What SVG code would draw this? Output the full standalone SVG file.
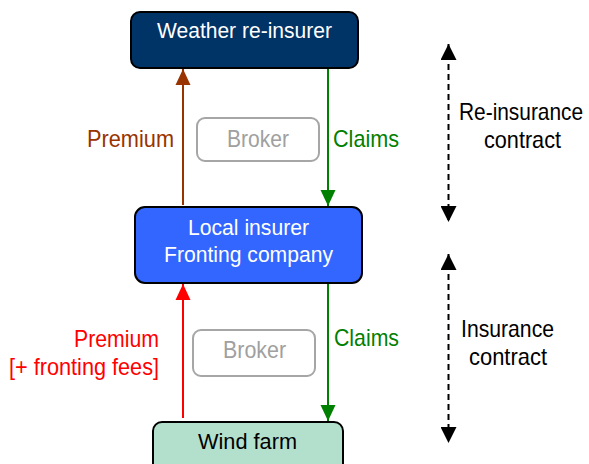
<svg xmlns="http://www.w3.org/2000/svg" width="589" height="464" viewBox="0 0 589 464">
<style>
text{font-family:"Liberation Sans Narrow","Liberation Sans",Arial,sans-serif;}
.box{stroke:#000;stroke-width:2;}
.bt{font-size:22px;fill:#fff;}
.lbl{font-size:24px;}
.broker rect{fill:#fff;stroke:#a6a6a6;stroke-width:2;}
.broker text{font-size:24px;fill:#a0a0a0;}
</style>
<defs>
<marker id="ahBrown" markerUnits="userSpaceOnUse" markerWidth="16" markerHeight="16" refX="16" refY="8" orient="auto"><path d="M0,0.5 L16,8 L0,15.5 z" fill="#993300"/></marker>
<marker id="ahGreen" markerUnits="userSpaceOnUse" markerWidth="16" markerHeight="16" refX="16" refY="8" orient="auto"><path d="M0,0.5 L16,8 L0,15.5 z" fill="#008000"/></marker>
<marker id="ahRed" markerUnits="userSpaceOnUse" markerWidth="16" markerHeight="16" refX="16" refY="8" orient="auto"><path d="M0,0.5 L16,8 L0,15.5 z" fill="#ff0000"/></marker>
<marker id="ahBlack" markerUnits="userSpaceOnUse" markerWidth="16" markerHeight="16" refX="16" refY="8" orient="auto-start-reverse"><path d="M0,0 L16,8 L0,16 z" fill="#000"/></marker>
</defs>
<rect width="589" height="464" fill="#fff"/>
<g id="connectors">
<line x1="183" y1="205" x2="183" y2="69" stroke="#993300" stroke-width="2" marker-end="url(#ahBrown)"/>
<line x1="328" y1="69" x2="328" y2="206" stroke="#008000" stroke-width="2" marker-end="url(#ahGreen)"/>
<line x1="183" y1="418" x2="183" y2="284" stroke="#ff0000" stroke-width="2" marker-end="url(#ahRed)"/>
<line x1="328" y1="284" x2="328" y2="421" stroke="#008000" stroke-width="2" marker-end="url(#ahGreen)"/>
<line x1="448.5" y1="44" x2="448.5" y2="222" stroke="#000" stroke-width="2" stroke-dasharray="6,4" marker-start="url(#ahBlack)" marker-end="url(#ahBlack)"/>
<line x1="448.5" y1="254" x2="448.5" y2="443" stroke="#000" stroke-width="2" stroke-dasharray="6,4" marker-start="url(#ahBlack)" marker-end="url(#ahBlack)"/>
</g>
<g id="reinsurer">
<rect class="box" x="131" y="12" width="227" height="56" rx="9" fill="#003366"/>
<text class="bt" x="157" y="37.5" textLength="175" lengthAdjust="spacingAndGlyphs">Weather re-insurer</text>
</g>
<g id="local-insurer">
<rect class="box" x="135" y="207" width="227" height="76" rx="10" fill="#3366ff"/>
<text class="bt" x="188" y="235" textLength="121" lengthAdjust="spacingAndGlyphs">Local insurer</text>
<text class="bt" x="164" y="262" textLength="169" lengthAdjust="spacingAndGlyphs">Fronting company</text>
</g>
<g id="wind-farm">
<rect class="box" x="153" y="422" width="190" height="60" rx="9" fill="#b3e0cd"/>
<text class="bt" x="198" y="449" textLength="99" lengthAdjust="spacingAndGlyphs" style="fill:#000">Wind farm</text>
</g>
<g id="broker1" class="broker">
<rect x="197" y="118" width="122" height="43" rx="8"/>
<text x="227" y="147" textLength="62" lengthAdjust="spacingAndGlyphs">Broker</text>
</g>
<g id="broker2" class="broker">
<rect x="193" y="330" width="122" height="46" rx="8"/>
<text x="223" y="358" textLength="63" lengthAdjust="spacingAndGlyphs">Broker</text>
</g>
<g id="labels">
<text class="lbl" x="87" y="147" textLength="87" lengthAdjust="spacingAndGlyphs" fill="#993300">Premium</text>
<text class="lbl" x="333" y="147" textLength="66" lengthAdjust="spacingAndGlyphs" fill="#008000">Claims</text>
<text class="lbl" x="74" y="347" textLength="85" lengthAdjust="spacingAndGlyphs" fill="#ff0000">Premium</text>
<text class="lbl" x="9" y="375" textLength="150" lengthAdjust="spacingAndGlyphs" fill="#ff0000">[+ fronting fees]</text>
<text class="lbl" x="334" y="346" textLength="65" lengthAdjust="spacingAndGlyphs" fill="#008000">Claims</text>
<text class="lbl" transform="translate(459 120) scale(0.87 1)" x="0" y="0" fill="#000">Re-insurance</text>
<text class="lbl" x="484" y="148" textLength="77" lengthAdjust="spacingAndGlyphs" fill="#000">contract</text>
<text class="lbl" x="461" y="337" textLength="93" lengthAdjust="spacingAndGlyphs" fill="#000">Insurance</text>
<text class="lbl" x="469" y="365" textLength="78" lengthAdjust="spacingAndGlyphs" fill="#000">contract</text>
</g>
</svg>
